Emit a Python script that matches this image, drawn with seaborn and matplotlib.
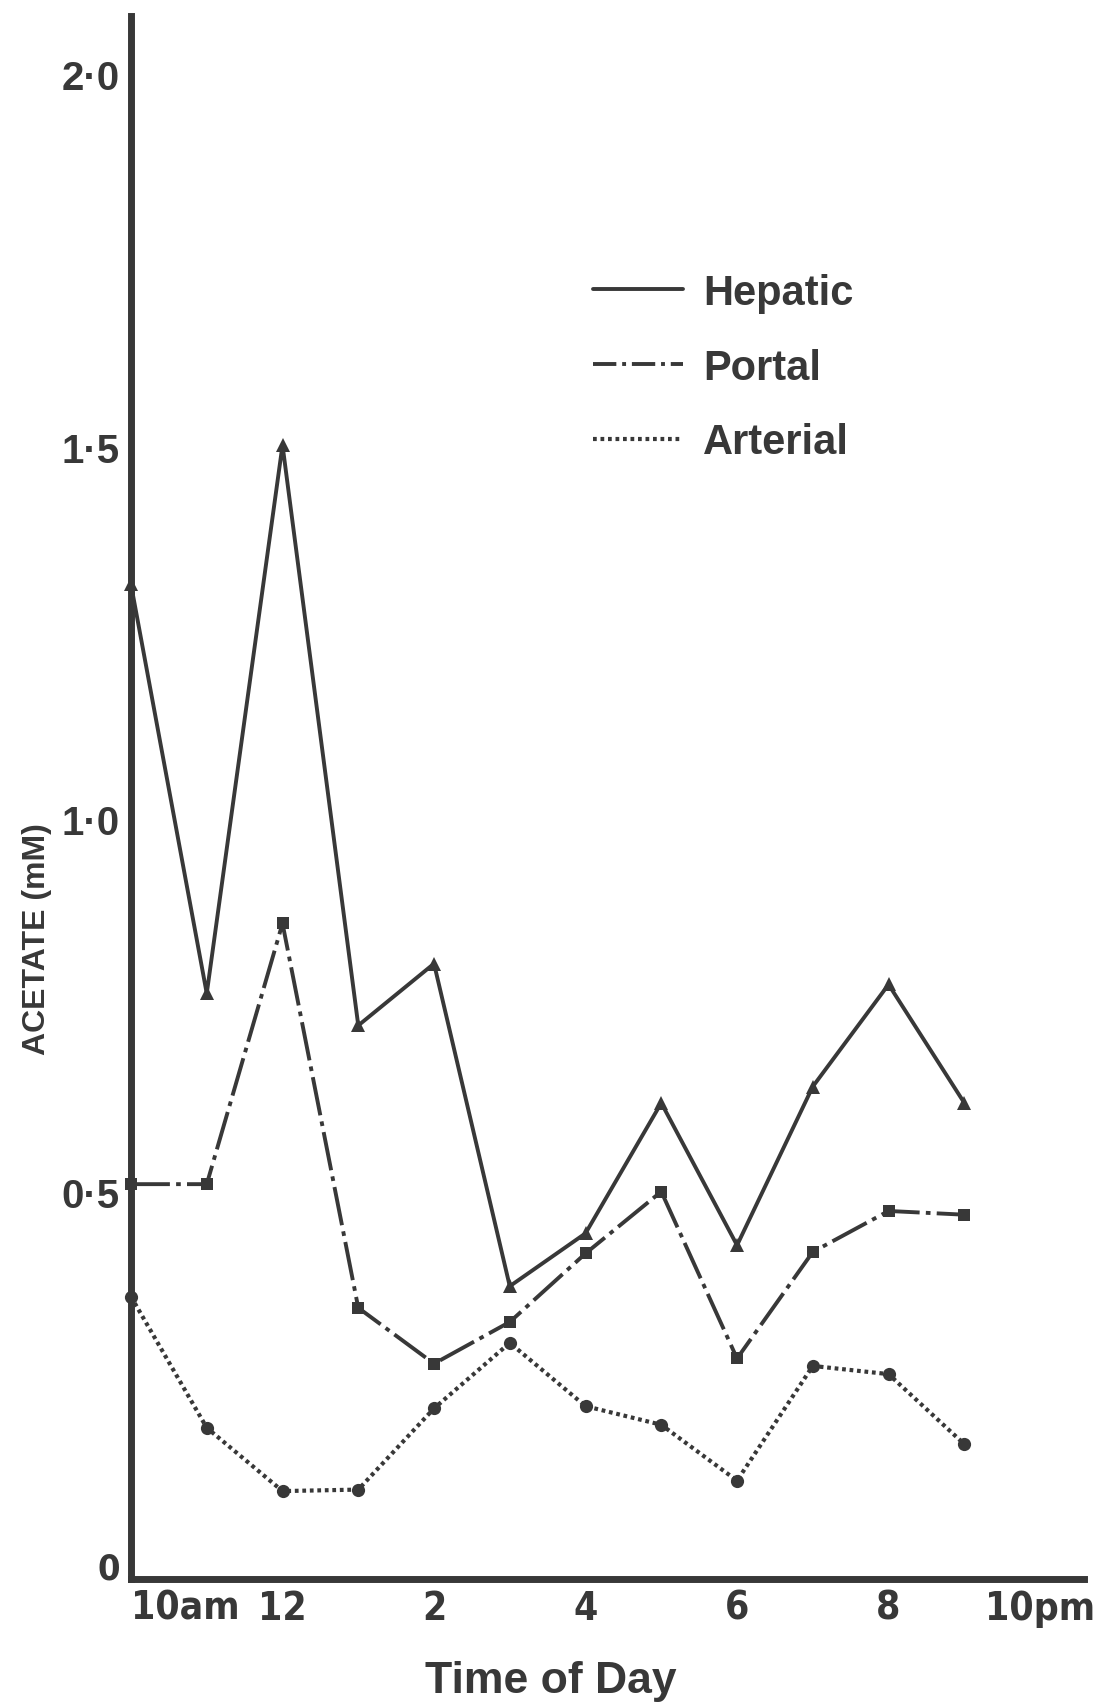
import matplotlib
matplotlib.use("Agg")
import matplotlib.pyplot as plt
from matplotlib import font_manager as fm
import seaborn as sns
import pandas as pd
from matplotlib.lines import Line2D

# ---- data ----
hours = [10, 11, 12, 13, 14, 15, 16, 17, 18, 19, 20, 21]
hepatic = [1.335, 0.786, 1.522, 0.743, 0.826, 0.393, 0.464, 0.639, 0.448, 0.661, 0.798, 0.639]
portal = [0.530, 0.530, 0.880, 0.364, 0.289, 0.345, 0.437, 0.520, 0.296, 0.439, 0.494, 0.489]
arterial = [0.379, 0.203, 0.118, 0.120, 0.229, 0.317, 0.232, 0.207, 0.132, 0.286, 0.275, 0.181]
series_names = ["Hepatic", "Portal", "Arterial"]

xtick_pos = list(range(10, 23))
xtick_labels = ["10am", "", "12", "", "2", "", "4", "", "6", "", "8", "", "10pm"]
ytick_pos = [0, 0.5, 1.0, 1.5, 2.0]
ytick_labels = ["0", "0·5", "1·0", "1·5", "2·0"]

df = pd.DataFrame({
    "hour": hours * 3,
    "value": hepatic + portal + arterial,
    "series": sum([[n] * len(hours) for n in series_names], []),
})

sns.set_style("white")
plt.rcParams["font.family"] = ["Liberation Sans", "DejaVu Sans"]
plt.rcParams["font.weight"] = "bold"

# look for an installed condensed bold face for the x tick labels
cond_file = None
for f in fm.fontManager.ttflist:
    n = f.name.lower()
    isbold = f.weight in ("bold", 700, "700")
    iscond = ("narrow" in n or "condensed" in n or
              f.stretch in ("condensed", "semi-condensed"))
    if isbold and iscond and "mono" not in n and "serif" not in n:
        cond_file = f.fname
        break

INK = "#383838"
W, H = 1096, 1706
fig = plt.figure(figsize=(W / 100, H / 100), dpi=100)
L, R, T, B = 131, 1084, 17, 1580
ax = fig.add_axes([L / W, (H - B) / H, (R - L) / W, (B - T) / H])

styles = {
    "Hepatic": dict(linestyle="-", marker="^", markersize=10),
    "Portal": dict(linestyle=(0, (10, 1.6, 1.2, 1.6)), marker="s", markersize=9),
    "Arterial": dict(linestyle=(0, (0.9, 0.9)), marker="o", markersize=9.5),
}
lws = {"Hepatic": 2.8, "Portal": 2.8, "Arterial": 3.0}

for name in series_names:
    sub = df[df["series"] == name]
    sns.lineplot(data=sub, x="hour", y="value", ax=ax, color=INK,
                 linewidth=lws[name], markeredgewidth=0, clip_on=False,
                 sort=False, estimator=None, legend=False, zorder=3,
                 **styles[name])

ax.set_xlim(10, 22.58)
ax.set_ylim(0, 2.098)

for s in ["top", "right"]:
    ax.spines[s].set_visible(False)
for s in ["left", "bottom"]:
    ax.spines[s].set_linewidth(5)
    ax.spines[s].set_color(INK)
    ax.spines[s].set_zorder(4)

ax.set_xticks(xtick_pos)
ax.set_xticklabels(xtick_labels)
ax.set_yticks(ytick_pos)
ax.set_yticklabels(ytick_labels)
ax.tick_params(axis="x", direction="in", length=11, width=1.3, color=INK,
               pad=7, labelsize=24, labelcolor=INK)
ax.tick_params(axis="y", direction="in", length=9, width=1.3, color=INK,
               pad=8, labelsize=29, labelcolor=INK)

if cond_file is not None:
    xfp = fm.FontProperties(fname=cond_file, size=28)
else:
    xfp = fm.FontProperties(family=["Liberation Sans", "DejaVu Sans"],
                            weight="bold", size=24)
for i, t in enumerate(ax.get_xticklabels()):
    t.set_fontproperties(xfp)
    if i == 0:
        t.set_horizontalalignment("left")
for i, t in enumerate(ax.get_yticklabels()):
    t.set_verticalalignment("baseline")
    t.set_fontweight("bold")
    if i == 0:
        if cond_file is not None:
            t.set_fontproperties(fm.FontProperties(fname=cond_file, size=26))
        else:
            t.set_fontsize(24)

ax.set_xlabel("Time of Day", fontsize=32, fontweight="bold", color=INK)
ax.xaxis.set_label_coords(0.44, -0.052)
ax.set_ylabel("ACETATE (mM)", fontsize=23, fontweight="bold", color=INK)
ax.yaxis.set_label_coords(-0.083, 0.41)

handles = [
    Line2D([], [], color=INK, linewidth=2.8, linestyle="-"),
    Line2D([], [], color=INK, linewidth=2.8, linestyle=(0, (6, 1.5, 1.0, 1.5))),
    Line2D([], [], color=INK, linewidth=3.0, linestyle=(0, (0.9, 0.9))),
]
leg = ax.legend(handles, series_names, loc="upper left",
                bbox_to_anchor=(0.4848, 0.8356), frameon=False,
                fontsize=30, handlelength=2.15, handletextpad=0.5,
                labelspacing=0.83, borderpad=0, borderaxespad=0)
for t in leg.get_texts():
    t.set_color(INK)
    t.set_fontweight("bold")

fig.savefig("out.png", dpi=100, facecolor="white")
